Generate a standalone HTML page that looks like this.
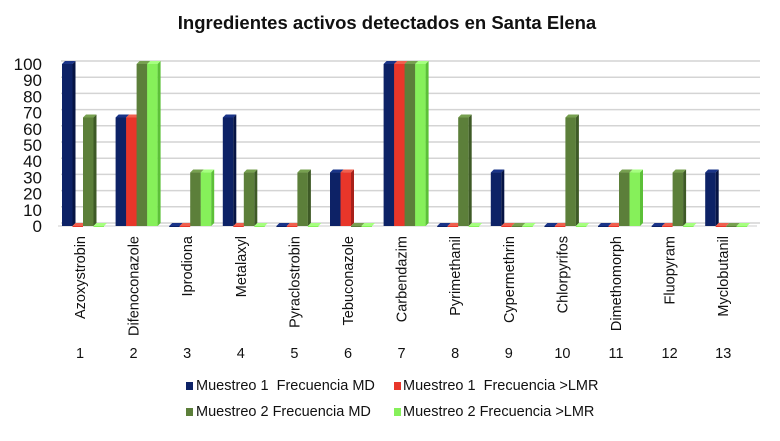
<!DOCTYPE html>
<html><head><meta charset="utf-8"><style>
body{margin:0;background:#fff;}
svg text{font-family:"Liberation Sans",sans-serif;}
</style></head><body>
<svg id="c" width="780" height="436">
<text x="387" y="29" text-anchor="middle" font-size="18.5" font-weight="bold" fill="#111">Ingredientes activos detectados en Santa Elena</text>
<g id="grid"></g><g id="bars"></g><g id="labels"></g>
<g font-size="14.5" fill="#111">
<rect x="186" y="382" width="7" height="8" fill="#0d2266"/>
<text x="196" y="390" style="white-space:pre">Muestreo 1  Frecuencia MD</text>
<rect x="394" y="382" width="7" height="8" fill="#e8362a"/>
<text x="403" y="390" style="white-space:pre">Muestreo 1  Frecuencia &gt;LMR</text>
<rect x="186" y="408" width="7" height="8" fill="#5c7f3a"/>
<text x="196" y="416">Muestreo 2 Frecuencia MD</text>
<rect x="394" y="408" width="7" height="8" fill="#86f05a"/>
<text x="403" y="416">Muestreo 2 Frecuencia &gt;LMR</text>
</g>
</svg>
<script>
const categories=["Azoxystrobin","Difenoconazole","Iprodiona","Metalaxyl","Pyraclostrobin","Tebuconazole","Carbendazim","Pyrimethanil","Cypermethrin","Chlorpyrifos","Dimethomorph","Fluopyram","Myclobutanil"];
const m1md=[100,67,0,67,0,33,100,0,33,0,0,0,33];
const m1lmr=[0,67,0,0,0,33,100,0,0,0,0,0,0];
const m2md=[67,100,33,33,33,0,100,67,0,67,33,33,0];
const m2lmr=[0,100,33,0,0,0,100,0,0,0,33,0,0];
const yTicks=[0,10,20,30,40,50,60,70,80,90,100];
const series=[m1md,m1lmr,m2md,m2lmr];
const colors=[["#0d2266","#1a3488","#061444"],["#e8362a","#f0604f","#a8201a"],["#5c7f3a","#77a050","#3e5a26"],["#86f05a","#a6ff80","#5cc038"]];
const ns="http://www.w3.org/2000/svg";
const y0=226,y1=64,x0=58,step=53.6,bw=10.5,dx=3,dy=3;
function Y(v){return y0-(v/100)*(y0-y1);}
function X(i){return 62+i*step;}
function mk(t,a,p){const e=document.createElementNS(ns,t);for(const k in a)e.setAttribute(k,a[k]);p.appendChild(e);return e;}
const grid=document.getElementById('grid'),bars=document.getElementById('bars'),labels=document.getElementById('labels');
yTicks.forEach(v=>{
 const l=mk('line',{x1:x0+dx,x2:760,y1:Y(v)-dy,y2:Y(v)-dy,stroke:'#d4d4d4','stroke-width':1.5},grid);
 
 
 const t=mk('text',{x:42,y:Y(v)+6,'text-anchor':'end','font-size':17,fill:'#111'},labels);
 t.textContent=v;
 
 
});
mk('line',{x1:x0,x2:757,y1:y0,y2:y0,stroke:'#ccc','stroke-width':1},grid);
categories.forEach((c,i)=>{
 series.forEach((s,j)=>{
  const x=X(i)+j*bw,y=Y(s[i]),h=y0-y;
  const g=mk('g',{},bars);
  
  
  const col=colors[j];
  mk('rect',{x:x,y:y,width:bw,height:Math.max(h,1),fill:col[0]},g);
  mk('polygon',{points:`${x},${y} ${x+dx},${y-dy} ${x+bw+dx},${y-dy} ${x+bw},${y}`,fill:col[1]},g);
  mk('polygon',{points:`${x+bw},${y} ${x+bw+dx},${y-dy} ${x+bw+dx},${y0-dy} ${x+bw},${y0}`,fill:col[2]},g);
 });
 const cx=X(i)+18;
 const t=mk('text',{x:cx,y:236,'text-anchor':'end','font-size':14.5,fill:'#111',transform:`rotate(-90 ${cx} 236)`,dy:5},labels);
 t.textContent=c;
 
 
 const n=mk('text',{x:cx,y:358,'text-anchor':'middle','font-size':14.5,fill:'#111'},labels);
 n.textContent=i+1;
 
 
});
</script>
</body></html>
